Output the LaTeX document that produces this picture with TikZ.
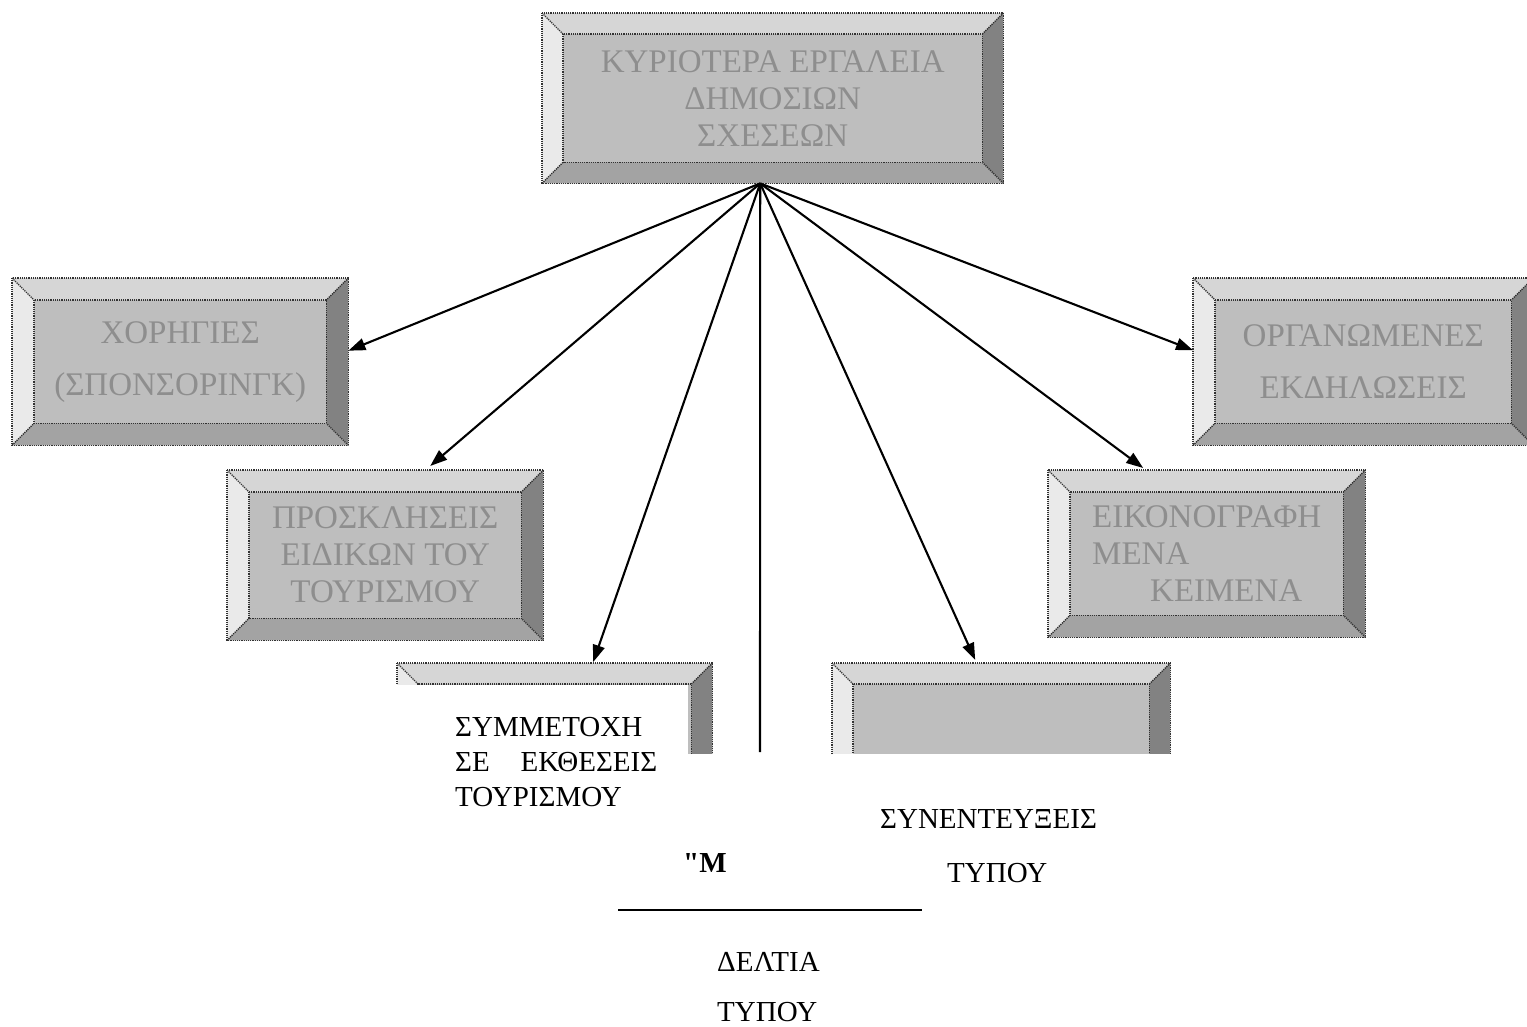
\documentclass[tikz,border=0pt]{standalone}
\usepackage{fontspec}
\setmainfont{Liberation Serif}
\newfontfamily\qfont[Ligatures=TeXOff]{Liberation Serif}
\usetikzlibrary{arrows.meta}
\definecolor{bxface}{RGB}{190,190,190}
\definecolor{bxtop}{RGB}{214,214,214}
\definecolor{bxleft}{RGB}{234,234,234}
\definecolor{bxright}{RGB}{130,130,130}
\definecolor{bxbottom}{RGB}{163,163,163}
\definecolor{bxtext}{RGB}{142,142,142}
\definecolor{bxline}{RGB}{50,50,50}
\newcommand\bevelize[2]{%
  \fill[bxtop] (#1.north west) -- (#1.north east) -- ([xshift=-#2,yshift=-#2]#1.north east) -- ([xshift=#2,yshift=-#2]#1.north west) -- cycle;
  \fill[bxleft] (#1.north west) -- ([xshift=#2,yshift=-#2]#1.north west) -- ([xshift=#2,yshift=#2]#1.south west) -- (#1.south west) -- cycle;
  \fill[bxright] (#1.north east) -- ([xshift=-#2,yshift=-#2]#1.north east) -- ([xshift=-#2,yshift=#2]#1.south east) -- (#1.south east) -- cycle;
  \fill[bxbottom] (#1.south west) -- ([xshift=#2,yshift=#2]#1.south west) -- ([xshift=-#2,yshift=#2]#1.south east) -- (#1.south east) -- cycle;
  \draw[dotline] (#1.north west) rectangle (#1.south east);
  \draw[dotline] ([xshift=#2,yshift=-#2]#1.north west) rectangle ([xshift=-#2,yshift=#2]#1.south east);
  \draw[dotline] (#1.north west) -- ([xshift=#2,yshift=-#2]#1.north west);
  \draw[dotline] (#1.north east) -- ([xshift=-#2,yshift=-#2]#1.north east);
  \draw[dotline] (#1.south west) -- ([xshift=#2,yshift=#2]#1.south west);
  \draw[dotline] (#1.south east) -- ([xshift=-#2,yshift=#2]#1.south east);
}
\begin{document}
\begin{tikzpicture}[x=1pt,y=-1pt,
  box/.style={rectangle, fill=bxface, inner sep=0pt, anchor=north west, text=bxtext,
    align=center, font=\fontsize{33}{37}\selectfont},
  dotline/.style={draw=bxline, line width=1.4pt, dash pattern=on 1.2pt off 1pt},
  arr/.style={-{Triangle[length=17pt,width=12pt]}, line width=2.1pt},
  plain/.style={line width=2.1pt},
  btxt/.style={inner sep=0pt, anchor=north west, align=left, font=\fontsize{29}{35}\selectfont}]
\clip (0,0) rectangle (1527,1027);
\fill[white] (0,0) rectangle (1527,1027);
% boxes
\node[box, minimum width=461pt, minimum height=170pt] (top) at (542,13)
  {ΚΥΡΙΟΤΕΡΑ ΕΡΓΑΛΕΙΑ\\ΔΗΜΟΣΙΩΝ\\ΣΧΕΣΕΩΝ};
\bevelize{top}{21pt}
\node[box, minimum width=336pt, minimum height=167pt] (xor) at (12,278)
  {ΧΟΡΗΓΙΕΣ\\[15pt](ΣΠΟΝΣΟΡΙΝΓΚ)};
\bevelize{xor}{22pt}
\node[box, minimum width=316pt, minimum height=170pt] (prosk) at (227,470)
  {ΠΡΟΣΚΛΗΣΕΙΣ\\ΕΙΔΙΚΩΝ ΤΟΥ\\ΤΟΥΡΙΣΜΟΥ};
\bevelize{prosk}{22pt}
\node[box, minimum width=340pt, minimum height=167pt] (organ) at (1193,278)
  {ΟΡΓΑΝΩΜΕΝΕΣ\\[15pt]ΕΚΔΗΛΩΣΕΙΣ};
\bevelize{organ}{22pt}
\node[box, minimum width=317pt, minimum height=167pt, align=left] (eikon) at (1048,470)
  {ΕΙΚΟΝΟΓΡΑΦΗ\\ΜΕΝΑ\\\hspace*{58pt}ΚΕΙΜΕΝΑ};
\bevelize{eikon}{22pt}
\node[box, minimum width=315pt, minimum height=150pt] (symm) at (397,663) {};
\bevelize{symm}{21pt}
\node[box, minimum width=338pt, minimum height=150pt] (synent) at (832,663) {};
\bevelize{synent}{21pt}
% white text areas covering the lower boxes
\fill[white] (394,685) rectangle (688,760);
\fill[white] (385,754) rectangle (1185,1027);
% connectors
\coordinate (apex) at ([xshift=-12.5pt]top.south);
\coordinate (vend) at (760,752);
\draw[arr] (apex) -- ([yshift=11pt]xor.east);
\draw[arr] (apex) -- ([xshift=45pt,yshift=4pt]prosk.north);
\draw[arr] (apex) -- ([xshift=38.5pt,yshift=1pt]symm.north);
\draw[plain] (apex) -- (vend);
\draw[arr] (apex) -- ([xshift=-26pt,yshift=3pt]synent.north);
\draw[arr] (apex) -- ([xshift=-63.5pt,yshift=2pt]eikon.north);
\draw[arr] (apex) -- ([yshift=11.5pt]organ.west);
% texts
\node[btxt] (symmtxt) at (455,717)
  {ΣΥΜΜΕΤΟΧΗ\\\makebox[202pt][l]{ΣΕ\hfill ΕΚΘΕΣΕΙΣ}\\ΤΟΥΡΙΣΜΟΥ};
\node[btxt] (synentxt) at (880,809)
  {ΣΥΝΕΝΤΕΥΞΕΙΣ\\[19pt]\hspace*{67pt}ΤΥΠΟΥ};
\node[btxt, font=\fontsize{29}{35}\qfont\bfseries] (mtxt) at (683,853) {"Μ};
\coordinate (hl1) at (618,910);
\coordinate (hl2) at (922,910);
\draw[line width=1.2pt] (hl1) -- (hl2);
\node[btxt] (deltatxt) at (717,952) {ΔΕΛΤΙΑ\\[15pt]ΤΥΠΟΥ};
\end{tikzpicture}
\end{document}
